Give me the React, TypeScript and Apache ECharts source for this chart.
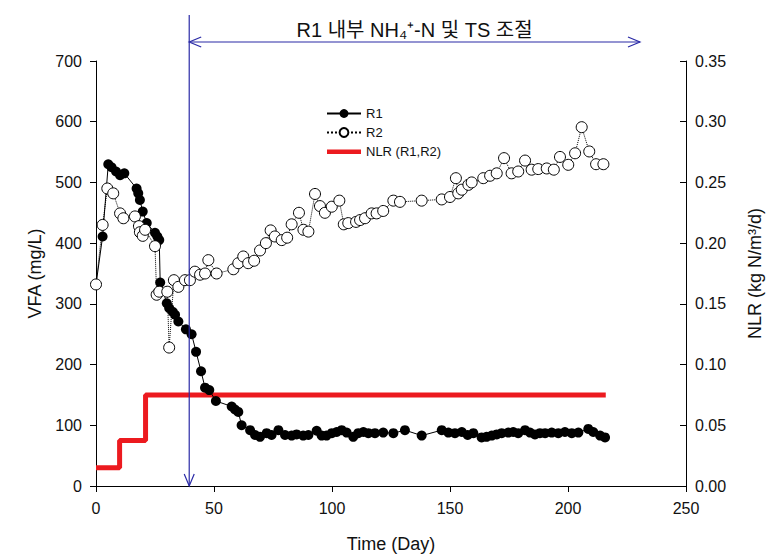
import React, { useEffect, useRef } from 'react';
import * as echarts from 'echarts';

const R1_DAYS = [0, 2.8, 5.2, 6.6, 8.5, 10.2, 12, 17.2, 17.9, 18.6, 19.8, 21.5, 25, 26, 26.8, 27.2, 30, 31, 32.5, 33.5, 34.9, 38.1, 40.5, 42.4, 44.5, 46.2, 48, 50.8, 57.5, 58.9, 60.3, 61.7, 65.3, 67.4, 69.5, 72.3, 74.4, 77.3, 80.1, 82.9, 85, 87.8, 90, 93.5, 95.6, 97.7, 99.9, 102, 104.1, 106.2, 109, 111.1, 113.3, 115.4, 118.2, 121.7, 126, 130.9, 138, 146.5, 149.3, 152.1, 155, 157.5, 159.9, 163.4, 165.5, 167.7, 169.8, 171.9, 174.7, 176.8, 178.9, 181.8, 183.9, 186, 188.1, 190.3, 193.1, 195.9, 198.7, 201.6, 204.4, 208.6, 210.7, 213.6, 215.7];
const R1_VFA = [332, 411, 530, 525, 518, 512, 515, 490, 482, 471, 452, 433, 417, 411, 405, 335, 301, 293, 287, 282, 271, 258, 250, 221, 189, 162, 158, 140, 131, 126, 122, 100, 92, 84, 81, 87, 84, 92, 84, 83, 85, 83, 84, 91, 83, 83, 87, 89, 92, 88, 81, 87, 89, 87, 87, 88, 87, 92, 83, 92, 88, 87, 89, 84, 87, 80, 81, 83, 85, 87, 88, 89, 87, 92, 88, 85, 87, 87, 88, 87, 89, 87, 88, 94, 89, 83, 80];

const R2_DAYS = [0, 2.8, 4.8, 7.3, 10.2, 11.6, 16.5, 18.2, 18.6, 19.8, 20.8, 25, 25.7, 26.8, 30.2, 31, 33, 34.9, 37.7, 39.8, 41.9, 44.1, 46.2, 47.6, 51.1, 58.2, 60.3, 62.4, 64.5, 67, 69.5, 72, 74, 75.8, 78.7, 81, 82.9, 86, 87.9, 90, 92.8, 94.9, 97, 99.9, 103.1, 105, 106.9, 110.2, 111.9, 114, 116.8, 118.9, 121.7, 126, 128.8, 138, 146.5, 150, 152.5, 153.5, 155, 157.8, 159.2, 164.1, 167, 169.8, 172.9, 176.1, 178.9, 181.8, 184.6, 187.4, 191, 194, 196.6, 200.1, 203, 205.8, 209, 211.9, 215];
const R2_VFA = [332, 430, 490, 482, 449, 441, 444, 428, 418, 412, 422, 395, 315, 320, 320, 228, 339, 328, 339, 339, 353, 348, 350, 372, 350, 357, 367, 378, 367, 371, 388, 400, 421, 411, 405, 409, 431, 450, 422, 419, 481, 461, 450, 460, 470, 431, 433, 435, 438, 441, 449, 449, 453, 470, 468, 470, 472, 476, 507, 482, 488, 496, 500, 507, 511, 515, 540, 515, 518, 536, 521, 522, 523, 521, 542, 529, 548, 591, 551, 530, 530];

const NLR_DAYS = [0, 10, 21, 216];
const NLR_VALUES = [0.015, 0.0375, 0.075, 0.075];

const ANNOT_START_DAY = 39.5;
const ANNOT_END_DAY = 230.5;
const ANNOT_TEXT = 'R1 내부 NH₄⁺-N 및 TS 조절';

const FONT = '"Liberation Sans", Arial, "Noto Sans CJK KR", sans-serif';
const BLUE = '#2a2aa6';
const RED = '#ec1a1f';

export default function App() {
  const ref = useRef<HTMLDivElement>(null);
  useEffect(() => {
    if (!ref.current) return;
    const chart = echarts.init(ref.current, undefined, { renderer: 'svg' });
    const axisCommon = {
      axisLine: { show: true, lineStyle: { color: '#000', width: 1 } },
      axisTick: { show: true, inside: false, length: 6, lineStyle: { color: '#000' } },
      splitLine: { show: false },
      axisLabel: { color: '#111', fontSize: 16, fontFamily: FONT },
      nameTextStyle: { color: '#111', fontSize: 18, fontFamily: FONT },
    };
    chart.setOption({
      animation: false,
      backgroundColor: '#fff',
      textStyle: { fontFamily: FONT },
      grid: { left: 96, right: 98, top: 61, bottom: 73, containLabel: false },
      legend: {
        orient: 'vertical',
        left: 321,
        top: 102,
        itemWidth: 34,
        itemHeight: 11,
        itemGap: 6,
        textStyle: { fontSize: 13, color: '#111', fontFamily: FONT },
        data: [
          'R1',
          'R2',
          { name: 'NLR (R1,R2)', icon: 'path://M0,0 M0,3.5 L34,3.5 L34,8 L0,8 Z M34,11' },
        ],
      },
      xAxis: {
        type: 'value',
        min: 0,
        max: 250,
        interval: 50,
        name: 'Time (Day)',
        nameLocation: 'middle',
        nameGap: 49,
        ...axisCommon,
        axisLabel: { ...axisCommon.axisLabel, margin: 14 },
      },
      yAxis: [
        {
          type: 'value',
          min: 0,
          max: 700,
          interval: 100,
          position: 'left',
          name: 'VFA (mg/L)',
          nameLocation: 'middle',
          nameRotate: 90,
          nameGap: 50,
          ...axisCommon,
          axisLabel: { ...axisCommon.axisLabel, margin: 14 },
        },
        {
          type: 'value',
          min: 0,
          max: 0.35,
          interval: 0.05,
          position: 'right',
          name: 'NLR (kg N/m³/d)',
          nameLocation: 'middle',
          nameRotate: 90,
          nameGap: 60,
          ...axisCommon,
          axisTick: { show: true, inside: true, length: 6, lineStyle: { color: '#000' } },
          axisLabel: {
            ...axisCommon.axisLabel,
            margin: 9,
            formatter: (v: number) => v.toFixed(2),
          },
        },
      ],
      series: [
        {
          name: 'NLR (R1,R2)',
          type: 'line',
          yAxisIndex: 1,
          step: 'end',
          symbol: 'none',
          data: NLR_DAYS.map((d, i) => [d, NLR_VALUES[i]]),
          lineStyle: { color: RED, width: 5 },
          itemStyle: { color: RED },
          z: 1,
        },
        {
          name: 'R1',
          type: 'line',
          data: R1_DAYS.map((d, i) => [d, R1_VFA[i]]),
          symbol: 'circle',
          symbolSize: 10,
          itemStyle: { color: '#000' },
          lineStyle: { color: '#000', width: 1 },
          z: 3,
        },
        {
          name: 'R2',
          type: 'line',
          data: R2_DAYS.map((d, i) => [d, R2_VFA[i]]),
          symbol: 'circle',
          symbolSize: 11,
          itemStyle: { color: '#fff', borderColor: '#000', borderWidth: 1 },
          lineStyle: { color: '#000', width: 1, type: 'dotted' },
          z: 4,
        },
      ],
    });

    const xs = chart.convertToPixel({ xAxisIndex: 0 }, ANNOT_START_DAY) as number;
    const xe = chart.convertToPixel({ xAxisIndex: 0 }, ANNOT_END_DAY) as number;
    const yb = chart.convertToPixel({ yAxisIndex: 0 }, 0) as number;
    const yTop = 15;
    const yArrow = 42;
    const ah = 12;
    const aw = 5;
    const ls = { stroke: BLUE, lineWidth: 1.2, fill: null };
    chart.setOption({
      graphic: [
        { type: 'line', shape: { x1: xs, y1: yTop, x2: xs, y2: yb }, style: ls, z: 10 },
        { type: 'polyline', shape: { points: [[xs - aw, yb - ah], [xs, yb], [xs + aw, yb - ah]] }, style: ls, z: 10 },
        { type: 'line', shape: { x1: xs, y1: yArrow, x2: xe, y2: yArrow }, style: ls, z: 10 },
        { type: 'polyline', shape: { points: [[xs + ah, yArrow - aw], [xs, yArrow], [xs + ah, yArrow + aw]] }, style: ls, z: 10 },
        { type: 'polyline', shape: { points: [[xe - ah, yArrow - aw], [xe, yArrow], [xe - ah, yArrow + aw]] }, style: ls, z: 10 },
        {
          type: 'text',
          x: (xs + xe) / 2,
          y: 30,
          style: {
            text: ANNOT_TEXT,
            fontSize: 20,
            fontFamily: FONT,
            fill: '#111',
            textAlign: 'center',
            textVerticalAlign: 'middle',
          },
          z: 10,
        },
      ],
    });
    return () => chart.dispose();
  }, []);
  return (
    <div
      ref={ref}
      style={{ position: 'fixed', left: 0, top: 0, width: 784, height: 559, background: '#fff' }}
    />
  );
}
